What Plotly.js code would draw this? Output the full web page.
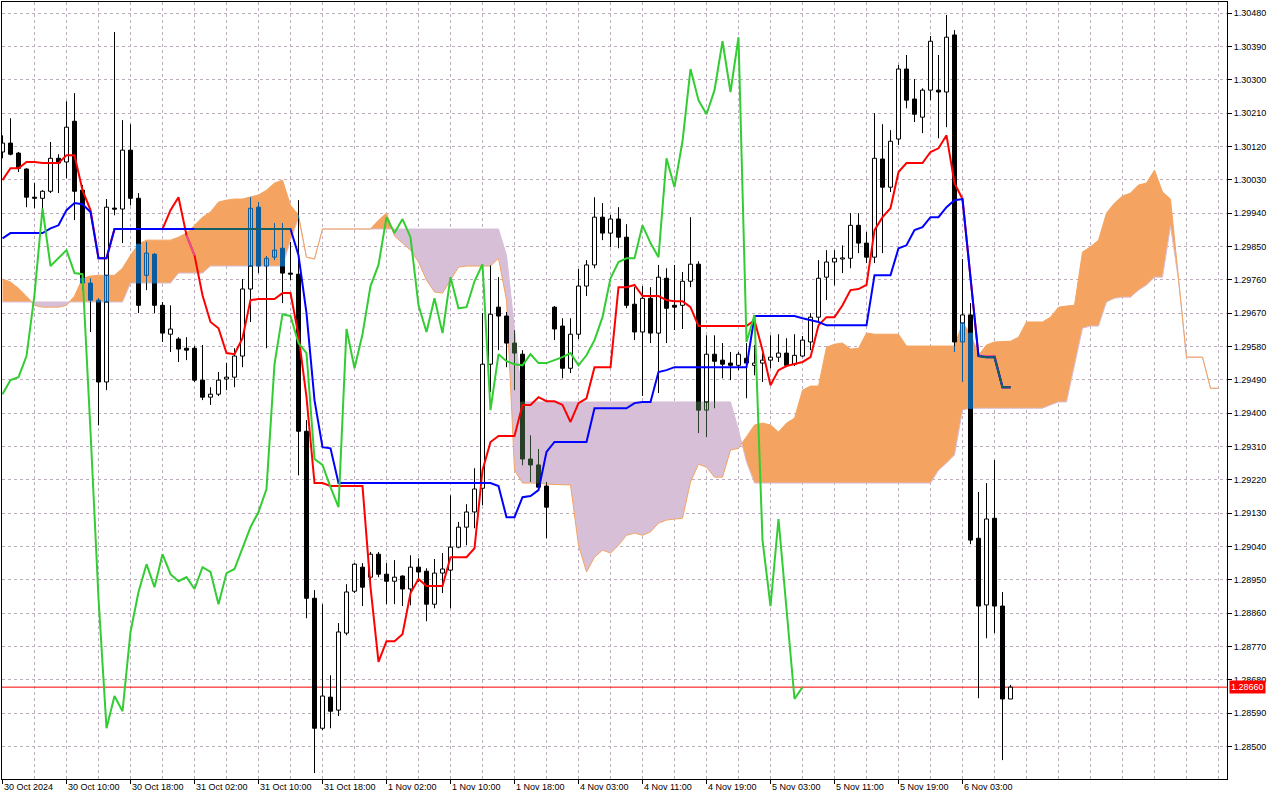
<!DOCTYPE html>
<html><head><meta charset="utf-8">
<script src="https://cdn.plot.ly/plotly-3.0.1.min.js"></script>
<style>html,body{margin:0;padding:0;background:#fff}#chart{width:1280px;height:800px}</style>
</head><body><div id="chart"></div>
<script>
// ---- data (H1 chart, bar index 0 = 30 Oct 2024 02:00) ----
const tickLabels = ['30 Oct 2024','30 Oct 10:00','30 Oct 18:00','31 Oct 02:00','31 Oct 10:00','31 Oct 18:00','1 Nov 02:00','1 Nov 10:00','1 Nov 18:00','4 Nov 03:00','4 Nov 11:00','4 Nov 19:00','5 Nov 03:00','5 Nov 11:00','5 Nov 19:00','6 Nov 03:00'];
const tickBars = [0,8,16,24,32,40,48,56,64,72,80,88,96,104,112,120];
const yTicks = [1.28500,1.28590,1.28680,1.28770,1.28860,1.28950,1.29040,1.29130,1.29220,1.29310,1.29400,1.29490,1.29580,1.29670,1.29760,1.29850,1.29940,1.30030,1.30120,1.30210,1.30300,1.30390,1.30480];

const open = [1.30105,1.30129,1.30102,1.30059,1.29983,1.29980,1.29999,1.30088,1.30078,1.30188,
1.30002,1.29751,1.29705,1.29484,1.29953,1.29951,1.30110,1.29980,1.29772,1.29829,
1.29691,1.29613,1.29600,1.29575,1.29575,1.29489,1.29443,1.29451,1.29492,1.29497,
1.29554,1.29735,1.29956,1.29797,1.29821,1.29845,1.29778,1.29775,1.29351,1.28900,
1.28549,1.28633,1.28598,1.28806,1.28919,1.28984,1.28957,1.29019,1.28965,1.28946,
1.28960,1.28925,1.28984,1.28973,1.28884,1.28968,1.28976,1.29038,1.29092,1.29133,
1.29197,1.29532,1.29686,1.29662,1.29589,1.29559,1.29276,1.29260,1.29203,1.29686,
1.29635,1.29521,1.29613,1.29743,1.29800,1.29929,1.29886,1.29924,1.29875,1.29694,
1.29619,1.29710,1.29616,1.29764,1.29691,1.29691,1.29756,1.29802,1.29408,1.29559,
1.29543,1.29535,1.29529,1.29548,1.29529,1.29535,1.29543,1.29551,1.29562,1.29532,
1.29554,1.29592,1.29659,1.29767,1.29808,1.29817,1.29818,1.29907,1.29859,1.29821,
1.30086,1.30010,1.30140,1.30329,1.30248,1.30199,1.30272,1.30272,1.30267,1.30421,
1.29592,1.29665,1.29062,1.28882,1.29116,1.28879,1.28628];
const high = [1.30150,1.30196,1.30105,1.30061,1.30021,1.30002,1.30132,1.30099,1.30242,1.30264,
1.30016,1.29764,1.29710,1.29978,1.30429,1.30191,1.30180,1.29994,1.29862,1.29832,
1.29700,1.29691,1.29605,1.29605,1.29581,1.29584,1.29470,1.29511,1.29535,1.29575,
1.29762,1.29983,1.29970,1.29824,1.29913,1.29913,1.29862,1.29975,1.29381,1.28922,
1.28884,1.28692,1.28833,1.28938,1.28995,1.28995,1.29025,1.29025,1.28995,1.29003,
1.28962,1.29016,1.29008,1.28981,1.29006,1.29022,1.29178,1.29106,1.29154,1.29251,
1.29670,1.29799,1.29767,1.29673,1.29624,1.29570,1.29340,1.29303,1.29214,1.29689,
1.29656,1.29656,1.29789,1.29813,1.29983,1.29967,1.29935,1.29956,1.29910,1.29740,
1.29743,1.29740,1.29800,1.29791,1.29800,1.29781,1.29929,1.29810,1.29610,1.29610,
1.29589,1.29565,1.29565,1.29589,1.29584,1.29562,1.29610,1.29613,1.29602,1.29613,
1.29608,1.29670,1.29813,1.29840,1.29840,1.29853,1.29940,1.29940,1.29889,1.30210,
1.30180,1.30164,1.30340,1.30367,1.30302,1.30277,1.30418,1.30367,1.30475,1.30434,
1.29816,1.29697,1.29187,1.29211,1.29273,1.28917,1.28666];
const low = [1.30088,1.30096,1.30051,1.29956,1.29953,1.29940,1.29994,1.29994,1.30034,1.29921,
1.29732,1.29619,1.29367,1.29462,1.29934,1.29859,1.29961,1.29670,1.29732,1.29670,
1.29592,1.29565,1.29538,1.29543,1.29484,1.29435,1.29422,1.29446,1.29462,1.29470,
1.29524,1.29646,1.29778,1.29575,1.29813,1.29697,1.29759,1.29232,1.28846,1.28428,
1.28544,1.28549,1.28582,1.28800,1.28914,1.28879,1.28949,1.28957,1.28884,1.28884,
1.28879,1.28881,1.28944,1.28838,1.28873,1.28914,1.28873,1.29035,1.29043,1.29089,
1.29151,1.29457,1.29570,1.29524,1.29462,1.29259,1.29214,1.29197,1.29062,1.29597,
1.29494,1.29508,1.29600,1.29716,1.29791,1.29867,1.29848,1.29845,1.29683,1.29597,
1.29446,1.29589,1.29454,1.29589,1.29624,1.29627,1.29740,1.29346,1.29335,1.29413,
1.29494,1.29489,1.29516,1.29440,1.29502,1.29484,1.29521,1.29538,1.29524,1.29527,
1.29551,1.29570,1.29646,1.29705,1.29745,1.29778,1.29791,1.29832,1.29805,1.29805,
1.29832,1.29997,1.30124,1.30223,1.30186,1.30156,1.30245,1.30142,1.30172,1.29565,
1.29484,1.29046,1.28630,1.28792,1.28806,1.28463,1.28628];
const close = [1.30129,1.30099,1.30061,1.29983,1.29980,1.29999,1.30088,1.30075,1.30172,1.29999,
1.29751,1.29705,1.29484,1.29956,1.29951,1.30110,1.29980,1.29691,1.29832,1.29691,
1.29616,1.29627,1.29573,1.29570,1.29489,1.29443,1.29451,1.29489,1.29497,1.29554,
1.29735,1.29953,1.29797,1.29818,1.29840,1.29778,1.29775,1.29351,1.28900,1.28549,
1.28636,1.28595,1.28809,1.28917,1.28992,1.28930,1.29019,1.28965,1.28946,1.28957,
1.28925,1.28984,1.28971,1.28884,1.28968,1.28979,1.29038,1.29092,1.29133,1.29195,
1.29532,1.29667,1.29662,1.29589,1.29562,1.29276,1.29260,1.29200,1.29146,1.29627,
1.29521,1.29613,1.29743,1.29800,1.29929,1.29886,1.29924,1.29875,1.29691,1.29619,
1.29710,1.29616,1.29767,1.29683,1.29686,1.29756,1.29802,1.29408,1.29559,1.29540,
1.29532,1.29529,1.29559,1.29535,1.29535,1.29543,1.29551,1.29562,1.29529,1.29556,
1.29597,1.29659,1.29764,1.29808,1.29818,1.29818,1.29907,1.29859,1.29821,1.30088,
1.30010,1.30134,1.30329,1.30245,1.30207,1.30272,1.30404,1.30267,1.30415,1.29592,
1.29665,1.29057,1.28879,1.29114,1.28879,1.28628,1.28660];

const tenkan = [1.30029,1.30061,1.30061,1.30078,1.30078,1.30075,1.30075,1.30075,1.30096,1.30096,
1.30002,1.29948,1.29818,1.29818,1.29897,1.29897,1.29897,1.29897,1.29897,1.29897,
1.29897,1.29948,1.29983,1.29880,1.29826,1.29718,1.29646,1.29629,1.29562,1.29559,
1.29602,1.29705,1.29708,1.29708,1.29708,1.29724,1.29724,1.29610,1.29443,1.29211,
1.29211,1.29203,1.29203,1.29203,1.29203,1.29203,1.28930,1.28728,1.28784,1.28784,
1.28803,1.28914,1.28952,1.28933,1.28933,1.28933,1.29011,1.29011,1.29011,1.29035,
1.29246,1.29322,1.29338,1.29338,1.29338,1.29422,1.29422,1.29443,1.29432,1.29432,
1.29422,1.29376,1.29427,1.29440,1.29524,1.29524,1.29524,1.29740,1.29740,1.29746,
1.29716,1.29716,1.29716,1.29705,1.29702,1.29702,1.29686,1.29635,1.29635,1.29635,
1.29635,1.29635,1.29635,1.29635,1.29651,1.29570,1.29475,1.29516,1.29527,1.29532,
1.29538,1.29551,1.29637,1.29659,1.29659,1.29691,1.29732,1.29735,1.29746,1.29894,
1.29929,1.29953,1.30051,1.30075,1.30075,1.30075,1.30105,1.30115,1.30150,1.30021,
1.29978,1.29764,1.29554,1.29554,1.29554,1.29470,1.29470];
const kijun = [1.29872,1.29886,1.29886,1.29886,1.29886,1.29886,1.29899,1.29907,1.29948,1.29967,
1.29964,1.29943,1.29818,1.29818,1.29897,1.29897,1.29897,1.29897,1.29897,1.29897,
1.29897,1.29897,1.29897,1.29897,1.29897,1.29897,1.29897,1.29897,1.29897,1.29897,
1.29897,1.29897,1.29897,1.29897,1.29897,1.29897,1.29897,1.29826,1.29670,1.29435,
1.29308,1.29305,1.29211,1.29211,1.29211,1.29211,1.29211,1.29211,1.29211,1.29211,
1.29211,1.29211,1.29211,1.29211,1.29211,1.29211,1.29211,1.29211,1.29211,1.29211,
1.29211,1.29211,1.29203,1.29119,1.29119,1.29173,1.29176,1.29192,1.29295,1.29322,
1.29322,1.29322,1.29322,1.29322,1.29413,1.29413,1.29413,1.29413,1.29413,1.29427,
1.29430,1.29430,1.29511,1.29516,1.29524,1.29524,1.29524,1.29524,1.29524,1.29524,
1.29524,1.29524,1.29524,1.29524,1.29662,1.29662,1.29662,1.29662,1.29662,1.29662,
1.29656,1.29651,1.29646,1.29637,1.29637,1.29637,1.29637,1.29637,1.29637,1.29772,
1.29772,1.29772,1.29845,1.29853,1.29894,1.29902,1.29929,1.29929,1.29956,1.29975,
1.29978,1.29764,1.29554,1.29551,1.29551,1.29470,1.29470];
const chikou = [1.29451,1.29489,1.29497,1.29554,1.29720,1.29953,1.29797,1.29818,1.29840,1.29778,
1.29775,1.29351,1.28900,1.28549,1.28636,1.28595,1.28809,1.28917,1.28992,1.28930,
1.29019,1.28965,1.28946,1.28957,1.28925,1.28984,1.28971,1.28884,1.28968,1.28979,
1.29038,1.29092,1.29133,1.29195,1.29532,1.29667,1.29662,1.29589,1.29562,1.29276,
1.29260,1.29200,1.29146,1.29627,1.29521,1.29613,1.29743,1.29800,1.29929,1.29886,
1.29924,1.29875,1.29691,1.29619,1.29710,1.29616,1.29767,1.29683,1.29686,1.29756,
1.29802,1.29408,1.29559,1.29540,1.29532,1.29529,1.29559,1.29535,1.29535,1.29543,
1.29551,1.29562,1.29529,1.29556,1.29597,1.29659,1.29764,1.29808,1.29818,1.29818,
1.29907,1.29859,1.29821,1.30088,1.30010,1.30134,1.30329,1.30245,1.30207,1.30272,
1.30404,1.30267,1.30415,1.29592,1.29665,1.29057,1.28879,1.29114,1.28879,1.28628,
1.28660];
const spanA = [1.29762,1.29754,1.29737,1.29716,1.29691,1.29686,1.29686,1.29686,1.29691,1.29716,
1.29764,1.29770,1.29772,1.29772,1.29772,1.29791,1.29826,1.29856,1.29867,1.29867,
1.29867,1.29867,1.29875,1.29886,1.29907,1.29929,1.29943,1.29970,1.29975,1.29978,
1.29978,1.29983,1.29989,1.30002,1.30021,1.30029,1.29961,1.29935,1.29821,1.29816,
1.29897,1.29897,1.29897,1.29897,1.29897,1.29897,1.29897,1.29921,1.29940,1.29878,
1.29859,1.29840,1.29808,1.29759,1.29727,1.29724,1.29759,1.29794,1.29797,1.29797,
1.29797,1.29797,1.29818,1.29705,1.29246,1.29211,1.29211,1.29211,1.29208,1.29208,
1.29208,1.29206,1.29043,1.28971,1.29011,1.29030,1.29022,1.29043,1.29070,1.29076,
1.29070,1.29079,1.29103,1.29111,1.29114,1.29116,1.29214,1.29262,1.29254,1.29227,
1.29227,1.29300,1.29305,1.29335,1.29368,1.29373,1.29368,1.29349,1.29373,1.29386,
1.29462,1.29473,1.29473,1.29578,1.29586,1.29589,1.29573,1.29575,1.29616,1.29613,
1.29613,1.29613,1.29613,1.29581,1.29581,1.29581,1.29581,1.29581,1.29581,1.29581,
1.29643,1.29616,1.29556,1.29584,1.29592,1.29594,1.29594,1.29605,1.29646,1.29646,
1.29646,1.29659,1.29686,1.29689,1.29691,1.29835,1.29849,1.29867,1.29940,1.29967,
1.29986,1.29994,1.30016,1.30021,1.30056,1.29997,1.29978,1.29764,1.29551,1.29551,
1.29551,1.29467,1.29467];
const spanB = [1.29700,1.29700,1.29700,1.29700,1.29700,1.29700,1.29700,1.29700,1.29700,1.29700,
1.29700,1.29700,1.29700,1.29700,1.29700,1.29700,1.29751,1.29751,1.29751,1.29751,
1.29751,1.29751,1.29778,1.29778,1.29778,1.29778,1.29797,1.29797,1.29797,1.29797,
1.29797,1.29797,1.29797,1.29797,1.29797,1.29797,1.29867,1.29926,1.29821,1.29816,
1.29897,1.29897,1.29897,1.29897,1.29897,1.29897,1.29897,1.29897,1.29897,1.29897,
1.29897,1.29897,1.29897,1.29897,1.29897,1.29897,1.29897,1.29897,1.29897,1.29897,
1.29897,1.29897,1.29897,1.29826,1.29624,1.29430,1.29430,1.29430,1.29430,1.29430,
1.29430,1.29430,1.29430,1.29430,1.29430,1.29430,1.29430,1.29430,1.29430,1.29430,
1.29430,1.29430,1.29430,1.29430,1.29430,1.29430,1.29430,1.29430,1.29430,1.29430,
1.29430,1.29430,1.29354,1.29268,1.29211,1.29211,1.29211,1.29211,1.29211,1.29211,
1.29211,1.29211,1.29211,1.29211,1.29211,1.29211,1.29211,1.29211,1.29211,1.29211,
1.29211,1.29211,1.29211,1.29211,1.29211,1.29211,1.29211,1.29246,1.29265,1.29287,
1.29408,1.29413,1.29413,1.29413,1.29413,1.29413,1.29413,1.29413,1.29413,1.29413,
1.29413,1.29422,1.29430,1.29430,1.29530,1.29629,1.29635,1.29635,1.29700,1.29710,
1.29713,1.29713,1.29732,1.29746,1.29767,1.29767,1.29905,1.29759,1.29551,1.29551,
1.29551,1.29467,1.29467];

// ---- styling ----
const ORANGE = '#F4A460', THISTLE = '#D8BFD8';
const IN_ORANGE = '#0B5B9F', IN_THISTLE = '#274027';
const GRID = '#bdaebd';
const FONT = 'Liberation Sans, Arial, sans-serif';
const BODY_HALF = 0.25, MIN_BODY = 0.00003;

const idx = n => Array.from({length: n}, (_, i) => i);
const traces = [];

// ---- cloud fill (crossing points inserted so the colours switch cleanly) ----
const cx = [], ca = [], cb = [];
for (let i = 0; i < spanA.length; i++) {
  cx.push(i); ca.push(spanA[i]); cb.push(spanB[i]);
  if (i < spanA.length - 1) {
    const d0 = spanA[i] - spanB[i], d1 = spanA[i + 1] - spanB[i + 1];
    if (d0 * d1 < 0) {
      const t = d0 / (d0 - d1);
      const yc = spanA[i] + t * (spanA[i + 1] - spanA[i]);
      cx.push(i + t); ca.push(yc); cb.push(yc);
    }
  }
}
const cmax = ca.map((v, k) => Math.max(v, cb[k]));
traces.push({x: cx, y: cb, mode: 'lines', line: {width: 0}, hoverinfo: 'skip'});
traces.push({x: cx, y: cmax, mode: 'lines', line: {width: 0}, fill: 'tonexty', fillcolor: ORANGE, hoverinfo: 'skip'});
traces.push({x: cx, y: ca, mode: 'lines', line: {width: 0}, hoverinfo: 'skip'});
traces.push({x: cx, y: cmax, mode: 'lines', line: {width: 0}, fill: 'tonexty', fillcolor: THISTLE, hoverinfo: 'skip'});
traces.push({x: idx(spanB.length), y: spanB, mode: 'lines', line: {color: THISTLE, width: 1}});
traces.push({x: idx(spanA.length), y: spanA, mode: 'lines', line: {color: ORANGE, width: 1}});

// current price line
const lastPrice = close[close.length - 1];
traces.push({x: [-1, 160], y: [lastPrice, lastPrice], mode: 'lines', line: {color: '#ff0000', width: 1}});

// ---- candles ----
function cloudAt(i) {
  const a = spanA[i], b = spanB[i];
  return {lo: Math.min(a, b), hi: Math.max(a, b), up: a >= b};
}
function split(lo, hi, c) {
  const out = [], ins = [];
  if (c.hi - c.lo < 1e-7) { out.push([lo, hi]); return {out, ins}; }
  const a = Math.max(lo, c.lo), b = Math.min(hi, c.hi);
  if (b > a) {
    ins.push([a, b]);
    if (hi > c.hi) out.push([c.hi, hi]);
    if (lo < c.lo) out.push([lo, c.lo]);
  } else out.push([lo, hi]);
  return {out, ins};
}
const mk = () => ({x: [], y: []});
const wickOut = mk(), wickInO = mk(), wickInT = mk();
const bBlack = mk(), bWhite = mk(), bBlackO = mk(), bWhiteO = mk(), bBlackT = mk(), bWhiteT = mk();
function seg(arr, i, a, b) { arr.x.push(i, i, null); arr.y.push(a, b, null); }
function rect(arr, i, a, b) {
  arr.x.push(i - BODY_HALF, i + BODY_HALF, i + BODY_HALF, i - BODY_HALF, i - BODY_HALF, null);
  arr.y.push(a, a, b, b, a, null);
}
for (let i = 0; i < open.length; i++) {
  const c = cloudAt(i);
  const w = split(low[i], high[i], c);
  w.out.forEach(s => seg(wickOut, i, s[0], s[1]));
  w.ins.forEach(s => seg(c.up ? wickInO : wickInT, i, s[0], s[1]));
  let lo = Math.min(open[i], close[i]), hi = Math.max(open[i], close[i]);
  if (hi - lo < MIN_BODY) { const m = (hi + lo) / 2; lo = m - MIN_BODY / 2; hi = m + MIN_BODY / 2; }
  const bull = close[i] > open[i];
  const s = split(lo, hi, c);
  s.out.forEach(r => rect(bull ? bWhite : bBlack, i, r[0], r[1]));
  s.ins.forEach(r => rect(c.up ? (bull ? bWhiteO : bBlackO) : (bull ? bWhiteT : bBlackT), i, r[0], r[1]));
}
traces.push({...wickOut, mode: 'lines', line: {color: '#000', width: 1}});
traces.push({...wickInO, mode: 'lines', line: {color: IN_ORANGE, width: 1}});
traces.push({...wickInT, mode: 'lines', line: {color: IN_THISTLE, width: 1}});
const bodyTrace = (d, fill, line) => ({...d, mode: 'lines', fill: 'toself', fillcolor: fill, line: {color: line, width: 1}});
traces.push(bodyTrace(bBlack, '#000000', '#000000'));
traces.push(bodyTrace(bWhite, '#ffffff', '#000000'));
traces.push(bodyTrace(bBlackO, IN_ORANGE, IN_ORANGE));
traces.push(bodyTrace(bWhiteO, 'rgba(0,0,0,0)', IN_ORANGE));
traces.push(bodyTrace(bBlackT, IN_THISTLE, IN_THISTLE));
traces.push(bodyTrace(bWhiteT, 'rgba(0,0,0,0)', IN_THISTLE));

// ---- Ichimoku lines ----
function inOrange(i, v) {
  if (i >= spanA.length) return false;
  const c = cloudAt(i);
  return c.up && c.hi - c.lo > 1e-6 && v <= c.hi + 0.00002 && v >= c.lo - 0.00002;
}
traces.push({x: idx(tenkan.length), y: tenkan, mode: 'lines', line: {color: '#ff0000', width: 2}});
traces.push({x: idx(tenkan.length), y: tenkan.map((v, i) => inOrange(i, v) ? v : null), mode: 'lines', line: {color: '#e8508e', width: 2}});
traces.push({x: idx(kijun.length), y: kijun, mode: 'lines', line: {color: '#0000ff', width: 2}});
traces.push({x: idx(kijun.length), y: kijun.map((v, i) => inOrange(i, v) ? v : null), mode: 'lines', line: {color: '#145f66', width: 2}});
traces.push({x: idx(chikou.length), y: chikou, mode: 'lines', line: {color: '#32CD32', width: 2}});

// ---- layout ----
const annotations = tickBars.map((b, k) => ({
  x: b, xref: 'x', y: 0, yref: 'paper', yanchor: 'top', xanchor: 'left', yshift: -1, xshift: -1,
  text: tickLabels[k], showarrow: false, font: {family: FONT, size: 9, color: '#000'}
}));
annotations.push({
  x: 1, xref: 'paper', y: lastPrice, yref: 'y', xanchor: 'left', yanchor: 'middle', xshift: 2,
  text: lastPrice.toFixed(5), showarrow: false, bgcolor: '#ff0000', borderpad: 1,
  font: {family: FONT, size: 9, color: '#ffffff'}
});

const layout = {
  width: 1280, height: 800,
  margin: {l: 2, r: 53, t: 2, b: 21},
  paper_bgcolor: '#ffffff', plot_bgcolor: '#ffffff',
  showlegend: false, hovermode: false,
  xaxis: {
    range: [-0.0625, 153.0625], tickmode: 'array', tickvals: tickBars, showticklabels: false,
    ticks: 'outside', ticklen: 4, tickcolor: '#000', tickwidth: 1,
    showgrid: true, gridcolor: GRID, griddash: '3px,3px', gridwidth: 1,
    zeroline: false, showline: true, mirror: true, linecolor: '#000', linewidth: 1,
    minor: {tickmode: 'linear', tick0: 0, dtick: 4, showgrid: true, gridcolor: GRID, griddash: '3px,3px', gridwidth: 1, ticks: ''}
  },
  yaxis: {
    side: 'right', range: [1.28412, 1.30510], tickmode: 'array', tickvals: yTicks,
    ticktext: yTicks.map(v => v.toFixed(5)),
    ticks: 'outside', ticklen: 4, tickcolor: '#000', tickwidth: 1,
    showgrid: true, gridcolor: GRID, griddash: '3px,3px', gridwidth: 1,
    zeroline: false, showline: true, mirror: true, linecolor: '#000', linewidth: 1,
    tickfont: {family: FONT, size: 9, color: '#000'}
  },
  annotations: annotations
};

Plotly.newPlot('chart', traces, layout, {displayModeBar: false, staticPlot: true});
</script>
</body></html>
